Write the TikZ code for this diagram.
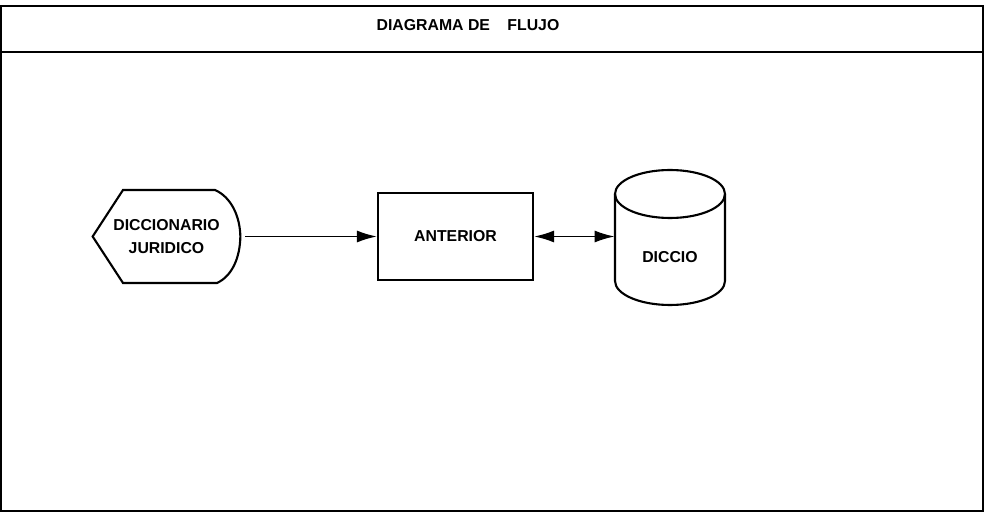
\documentclass[tikz,border=0pt]{standalone}
\usepackage{fontspec}
\setmainfont{Liberation Sans}
\usetikzlibrary{arrows.meta,positioning}

\begin{document}
\begin{tikzpicture}[
  shapeline/.style={draw,line width=1.2pt},
  lbl/.style={font=\fontsize{9}{13}\selectfont\bfseries,align=center},
  procbox/.style={lbl,draw,line width=1.2pt,minimum width=3.1cm,minimum height=1.74cm},
  arr/.style={-{Latex[length=4mm,width=2.4mm]},line width=1pt},
  dblarr/.style={{Latex[length=4mm,width=2.4mm]}-{Latex[length=4mm,width=2.4mm]},line width=1pt}
]
  \useasboundingbox (0,0) rectangle (19.94,10.30);
  % Frame
  \draw[line width=1.6pt] (0.02,0.08) rectangle (19.66,10.18);
  \draw[line width=1.6pt] (0.02,9.26) -- (19.66,9.26);
  \node[lbl] (title) at (9.36,9.80) {DIAGRAMA DE\hspace{0.35cm}FLUJO};
  % Shapes
  \node[lbl,minimum width=2.94cm,minimum height=1.86cm] (dic) at (3.33,5.57) {DICCIONARIO\\JURIDICO};
  \draw[shapeline] (dic.west) -- (2.46,6.50) -- (4.30,6.50)
    .. controls (4.62,6.36) and (4.80,5.98) .. (dic.east)
    .. controls (4.80,5.14) and (4.64,4.78) .. (4.34,4.64) -- (2.46,4.64) -- cycle;
  \node[procbox] (ant) at (9.11,5.57) {ANTERIOR};
  \node[lbl,minimum width=2.2cm] (dicc) at (13.40,5.16) {DICCIO};
  \draw[shapeline] (13.40,6.42) ellipse [x radius=1.1cm,y radius=0.48cm];
  \draw[shapeline] (12.30,6.42) -- (12.30,4.68)
    arc[start angle=180,end angle=360,x radius=1.1cm,y radius=0.48cm] -- (14.50,6.42);
  % Arrows
  \draw[arr,shorten <=0.1cm] (dic) -- (ant);
  \draw[dblarr] (ant.east) -- (ant.east -| dicc.west);
\end{tikzpicture}
\end{document}
